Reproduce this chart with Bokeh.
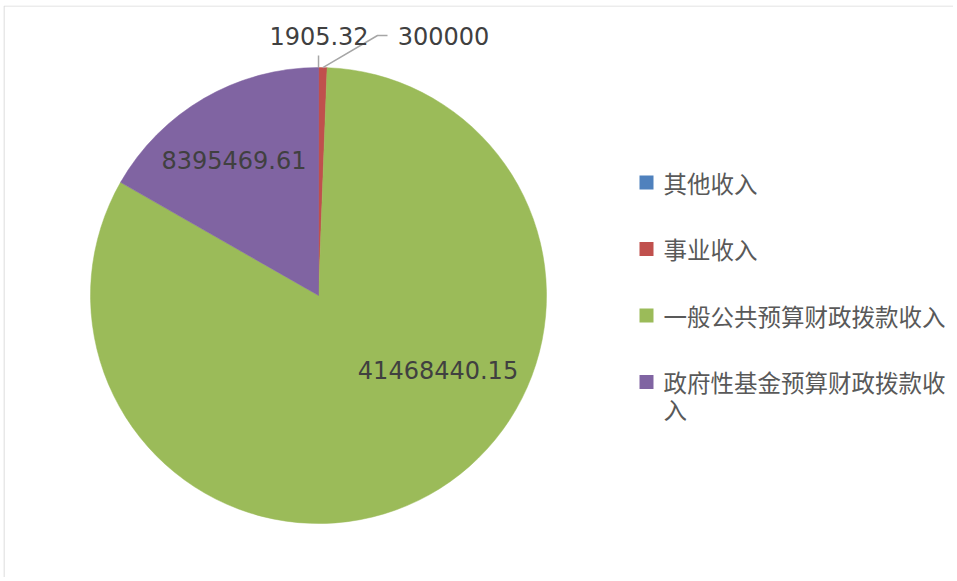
import math
from bokeh.plotting import figure
from bokeh.models import Range1d, ColumnDataSource
from bokeh.core.properties import value
from bokeh.embed import file_html
from bokeh.resources import INLINE

# ---- data ----
categories = ["其他收入", "事业收入", "一般公共预算财政拨款收入", "政府性基金预算财政拨款收入"]
values = [1905.32, 300000, 41468440.15, 8395469.61]
value_labels = ["1905.32", "300000", "41468440.15", "8395469.61"]
colors = ["#4F81BD", "#C0504D", "#9BBB59", "#8064A2"]
legend_lines = [["其他收入"], ["事业收入"], ["一般公共预算财政拨款收入"], ["政府性基金预算财政拨款收", "入"]]

# ---- layout (pixels) ----
W, H = 950, 572
CX, CY, R = 315, 282, 228
# label offsets from pie centre (dx, dy) in px
label_offsets = [(0.5, 260), (125, 260), (119.5, -74), (-84.5, 136)]

p = figure(width=W, height=H, output_backend="svg", toolbar_location=None,
           x_range=Range1d(0, W), y_range=Range1d(0, H), min_border=0,
           margin=(5, 0, 0, 3))
p.axis.visible = False
p.grid.visible = False
p.outline_line_color = None
p.background_fill_color = "white"
p.border_fill_color = "white"

# chart frame border (top and left visible)
p.line([0.5, 0.5], [0, H - 0.5], line_color="#d9d9d9", line_width=1.2)
p.line([0.5, W], [H - 0.5, H - 0.5], line_color="#d9d9d9", line_width=1.2)

total = sum(values)
starts, ends = [], []
cum = 0.0
for v in values:
    a0 = math.pi / 2 - 2 * math.pi * cum / total
    cum += v
    a1 = math.pi / 2 - 2 * math.pi * cum / total
    starts.append(a1)
    ends.append(a0)

src = ColumnDataSource(dict(start=starts, end=ends, color=colors))
p.wedge(x=CX, y=CY, radius=R, start_angle="start", end_angle="end",
        fill_color="color", line_color="color", line_width=0.5, source=src)

# leader lines for the two small slices
mid0 = (starts[0] + ends[0]) / 2
mid1 = (starts[1] + ends[1]) / 2
p.line([CX + R * math.cos(mid0), CX + R * math.cos(mid0)],
       [CY + R * math.sin(mid0), CY + 240], line_color="#a6a6a6", line_width=1.5)
p.line([CX + R * math.cos(mid1), CX + 59, CX + 69],
       [CY + R * math.sin(mid1), CY + 260, CY + 260], line_color="#a6a6a6", line_width=1.5)

lx = [CX + dx for dx, dy in label_offsets]
ly = [CY + dy for dx, dy in label_offsets]
p.text(x=lx, y=ly, text=value_labels, text_align="center", text_baseline="middle",
       text_font=value("DejaVu Sans"), text_font_size="24px", text_color="#404040")

# legend
LX, LY0, DY, LINE_H = 643, 395, 66.5, 27
for i, lines in enumerate(legend_lines):
    y = LY0 - i * DY
    p.rect(x=[LX], y=[y], width=14, height=14, fill_color=colors[i], line_color=None)
    for j, t in enumerate(lines):
        p.text(x=[LX + 17], y=[y - j * LINE_H], text=[t], text_align="left",
               text_baseline="middle", text_font=value("Noto Sans CJK SC"),
               text_font_size="23.5px", text_color="#595959")

open("out.html", "w").write(file_html(p, INLINE))
